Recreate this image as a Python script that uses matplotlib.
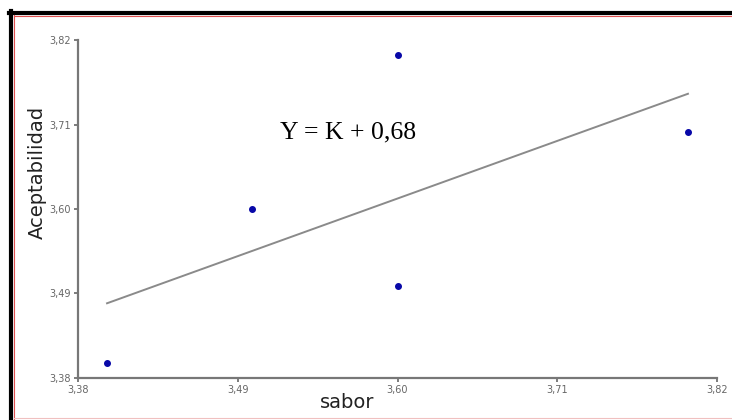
import matplotlib
matplotlib.use("Agg")
import matplotlib.pyplot as plt
from matplotlib.lines import Line2D
import numpy as np

# sabor vs aceptabilidad
sabor = [3.40, 3.50, 3.60, 3.60, 3.80]
aceptabilidad = [3.40, 3.60, 3.80, 3.50, 3.70]
tick_values = [3.38, 3.49, 3.60, 3.71, 3.82]
tick_labels = ["3,38", "3,49", "3,60", "3,71", "3,82"]
equation = "Y = K + 0,68"

W, H = 732, 420
fig = plt.figure(figsize=(W / 100, H / 100), dpi=100)
ax = fig.add_axes([78 / W, 1 - 378 / H, (717 - 78) / W, (378 - 40) / H])

# regression line over the data range
slope, intercept = np.polyfit(sabor, aceptabilidad, 1)
xs = np.array([min(sabor), max(sabor)])
ax.plot(xs, intercept + slope * xs, color="#8a8a8a", lw=1.4)
ax.plot(sabor, aceptabilidad, "o", color="#0808a8", ms=4, mec="#0808a8")

ax.set_xlim(3.38, 3.82)
ax.set_ylim(3.38, 3.82)
ax.set_xticks(tick_values)
ax.set_xticklabels(tick_labels)
ax.set_yticks(tick_values)
ax.set_yticklabels(tick_labels)
ax.tick_params(labelsize=7, colors="#666666", length=3, width=1.2, pad=2)

for side in ["top", "right"]:
    ax.spines[side].set_visible(False)
for side in ["left", "bottom"]:
    ax.spines[side].set_color("#777777")
    ax.spines[side].set_linewidth(1.6)

fig.text(280 / W, 1 - 138 / H, equation, fontsize=18.5,
         family="Liberation Serif", color="black", va="baseline", ha="left")
fig.text(347 / W, 1 - 403 / H, "sabor", fontsize=14, color="#222222",
         ha="center", va="center")
fig.text(37 / W, 1 - 172 / H, "Aceptabilidad", fontsize=14, color="#222222",
         ha="center", va="center", rotation=90)

# frame of the picture
fig.add_artist(Line2D([11 / W, 11 / W], [0, 1 - 11 / H], color="black", lw=3, transform=fig.transFigure))
fig.add_artist(Line2D([9 / W, 1], [1 - 13 / H, 1 - 13 / H], color="black", lw=3, transform=fig.transFigure))
fig.add_artist(Line2D([14 / W, 14 / W], [0, 1 - 15 / H], color="#e05050", lw=0.8, transform=fig.transFigure))
fig.add_artist(Line2D([14 / W, 1], [1 - 16 / H, 1 - 16 / H], color="#e05050", lw=0.8, transform=fig.transFigure))
fig.add_artist(Line2D([14 / W, 1], [1 - 418 / H, 1 - 418 / H], color="#f0c0c0", lw=0.8, transform=fig.transFigure))

fig.savefig("out.png", dpi=100)
